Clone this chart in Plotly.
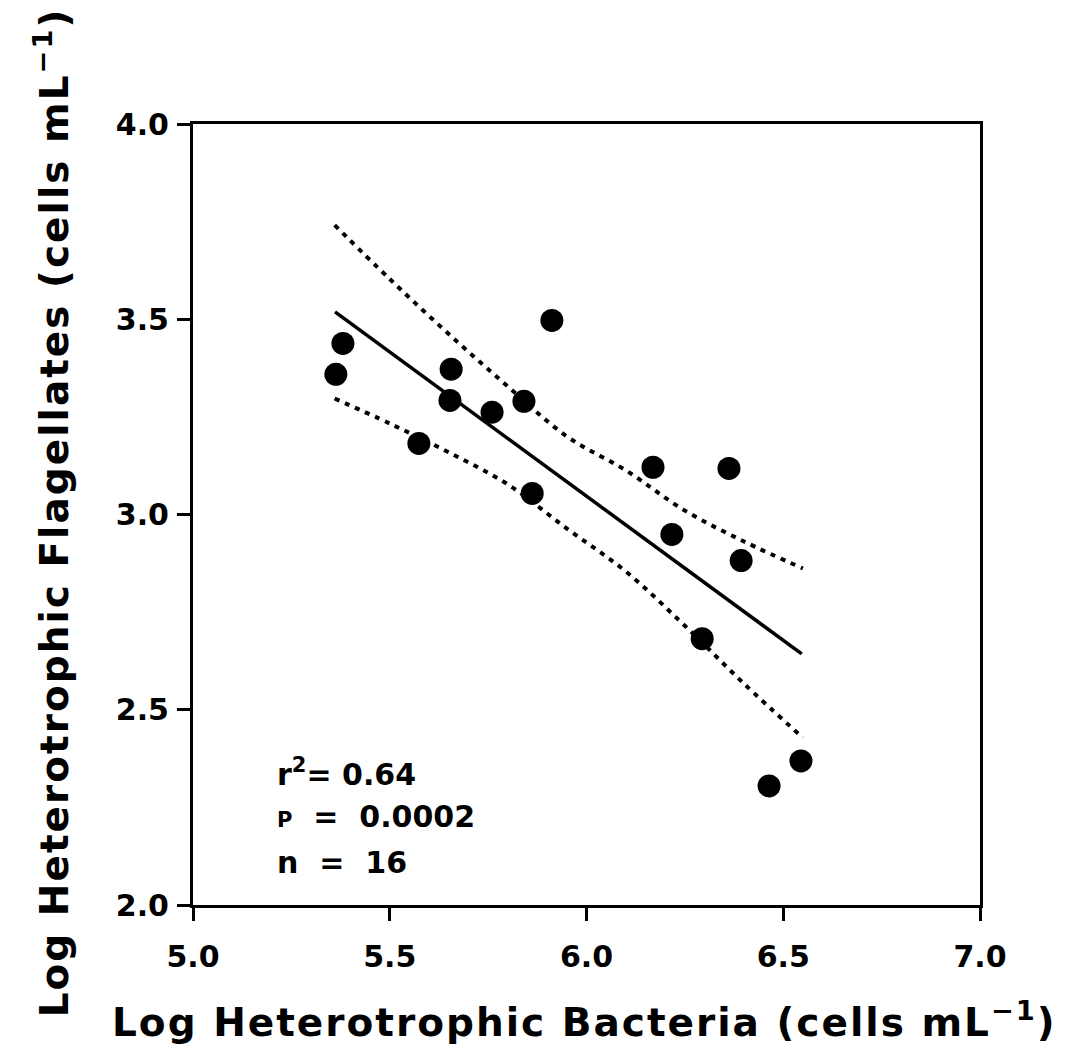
import plotly.graph_objects as go

# Data points (log bacteria, log flagellates)
bact = [5.363, 5.381, 5.574, 5.656, 5.653, 5.760, 5.841, 5.912, 5.862,
        6.169, 6.362, 6.217, 6.393, 6.294, 6.464, 6.545]
flag = [3.359, 3.438, 3.182, 3.372, 3.292, 3.262, 3.290, 3.497, 3.054,
        3.121, 3.118, 2.949, 2.882, 2.682, 2.305, 2.369]

# Regression line endpoints
fit_x = [5.361, 6.547]
fit_y = [3.519, 2.643]

# Confidence band
band_x = [5.36, 5.50, 5.65, 5.80, 5.95, 6.10, 6.25, 6.40, 6.55]
band_upper = [3.741, 3.603, 3.462, 3.328, 3.200, 3.113, 3.010, 2.931, 2.862]
band_lower = [3.297, 3.233, 3.159, 3.077, 2.964, 2.854, 2.715, 2.567, 2.428]

x_ticks = [5.0, 5.5, 6.0, 6.5, 7.0]
y_ticks = [2.0, 2.5, 3.0, 3.5, 4.0]

stat_lines = ["r<sup>2</sup>= 0.64",
              "<span style='font-size:21px'>P</span>  =  0.0002",
              "n  =  16"]

FONT = "DejaVu Sans"

fig = go.Figure()
dot = dict(color="black", width=4, dash="5px,6px")
fig.add_trace(go.Scatter(x=band_x, y=band_upper, mode="lines", line=dot,
                         line_shape="spline", showlegend=False))
fig.add_trace(go.Scatter(x=band_x, y=band_lower, mode="lines", line=dot,
                         line_shape="spline", showlegend=False))
fig.add_trace(go.Scatter(x=fit_x, y=fit_y, mode="lines",
                         line=dict(color="black", width=3.5), showlegend=False))
fig.add_trace(go.Scatter(x=bact, y=flag, mode="markers",
                         marker=dict(color="black", size=23), showlegend=False))

axis_common = dict(
    showgrid=False, zeroline=False, showline=True, linecolor="black",
    linewidth=3, mirror=True, ticks="outside", ticklen=13, tickwidth=2.5,
    tickcolor="black",
    tickfont=dict(family=FONT, size=30, color="black", weight="bold"),
)
fig.update_xaxes(range=[5.0, 7.0], tickvals=x_ticks,
                 ticktext=[f"{v:.1f}" for v in x_ticks],
                 ticklabelstandoff=10, **axis_common)
fig.update_yaxes(range=[2.0, 4.0], tickvals=y_ticks,
                 ticktext=[f"{v:.1f}" for v in y_ticks],
                 ticklabelstandoff=2, **axis_common)

title_font = dict(family=FONT, size=39, color="black", weight="bold")
sp = "<span style='letter-spacing:2px'>"
fig.add_annotation(text=sp + "Log Heterotrophic Bacteria (cells mL<sup>−1</sup>)</span>",
                   xref="paper", yref="paper", x=0.497, y=-0.147,
                   xanchor="center", yanchor="middle", showarrow=False,
                   font=title_font)
fig.add_annotation(text=sp + "Log Heterotrophic Flagellates (cells mL<sup>−1</sup>)</span>",
                   xref="paper", yref="paper", x=-0.179, y=0.503,
                   xanchor="center", yanchor="middle", textangle=-90,
                   showarrow=False, font=title_font)

stat_font = dict(family=FONT, size=30, color="black", weight="bold")
for txt, yy in zip(stat_lines, [0.170, 0.113, 0.055]):
    fig.add_annotation(text=txt, xref="paper", yref="paper", x=0.104, y=yy,
                       xanchor="left", yanchor="middle", align="left",
                       showarrow=False, font=stat_font)

fig.update_layout(
    width=1073, height=1055,
    margin=dict(l=193, r=93, t=124, b=150),
    plot_bgcolor="white", paper_bgcolor="white",
)

fig.write_html("out.html")
